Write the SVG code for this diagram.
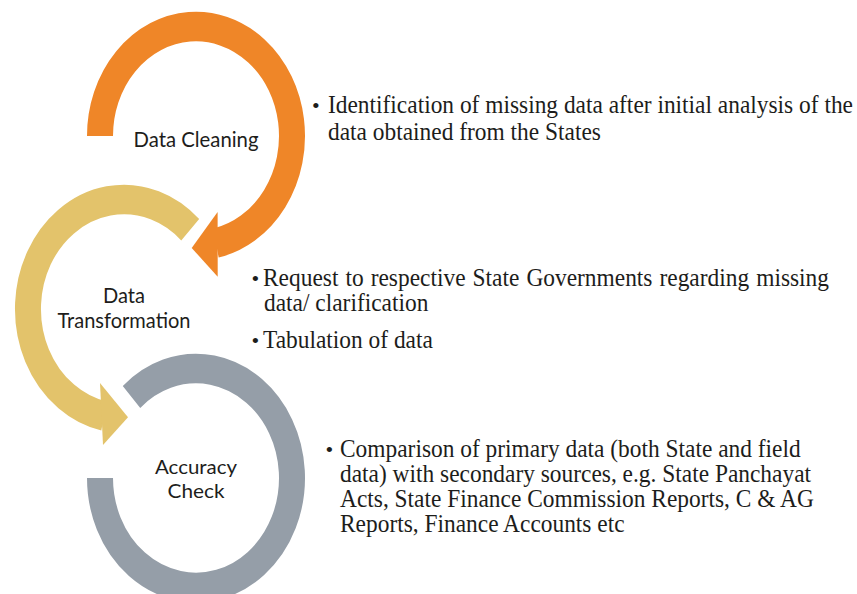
<svg xmlns="http://www.w3.org/2000/svg" width="857" height="594" viewBox="0 0 857 594">
<style>
.lbl{font-family:Lato,"Open Sans","DejaVu Sans",sans-serif;font-size:21px;fill:#1d1d1b;text-anchor:middle}
.lbl2{font-size:20px}
.txt{font-family:"Liberation Serif","Times New Roman",serif;font-size:23.4px;fill:#1d1d1b}
.bul{font-family:"Liberation Serif","Times New Roman",serif;font-size:22px;fill:#1d1d1b}
.ring{fill:none;stroke-width:26;stroke-linecap:butt}
.orange{stroke:#EF8628}
.gold{stroke:#E3C36B}
.grey{stroke:#959EA8}
</style>
<rect width="857" height="594" fill="#ffffff"/>

<g id="node-data-cleaning">
  <path class="ring orange" transform="translate(196 136) scale(1 1.14)" d="M -96 0 A 96 96 0 1 1 19.96 93.9"/>
  <text class="lbl" x="196" y="147" textLength="125" lengthAdjust="spacingAndGlyphs">Data Cleaning</text>
</g>

<g id="node-data-transformation">
  <path class="ring gold" transform="translate(124 309) scale(1 1.14)" d="M 66.2 -69.5 A 96 96 0 1 0 -19.96 93.9"/>
  <text class="lbl" x="124" y="303" textLength="42" lengthAdjust="spacingAndGlyphs">Data</text>
  <text class="lbl" x="124" y="328" textLength="133" lengthAdjust="spacingAndGlyphs">Transformation</text>
</g>

<g id="node-accuracy-check">
  <path class="ring grey" transform="translate(196 478) scale(1 1.14)" d="M -64.5 -71.1 A 96 96 0 1 1 -96 0"/>
  <text class="lbl lbl2" x="196" y="474" textLength="82" lengthAdjust="spacingAndGlyphs">Accuracy</text>
  <text class="lbl lbl2" x="196" y="498" textLength="57" lengthAdjust="spacingAndGlyphs">Check</text>
</g>

<g id="connectors">
  <polygon fill="#EF8628" transform="translate(196 136) scale(1 1.14)" points="21.6,66.6 21.7,123.4 -4.3,98.2"/>
  <polygon fill="#E3C36B" transform="translate(124 309) scale(1 1.14)" points="-24,64.9 -21,119.3 4,95"/>
</g>

<g id="text-cleaning">
  <text class="bul" x="312" y="112.5">•</text>
  <text class="txt" transform="translate(328 112.5) scale(1 1.06)">Identification of missing data after initial analysis of the</text>
  <text class="txt" transform="translate(328 140) scale(1 1.06)">data obtained from the States</text>
</g>

<g id="text-transformation">
  <text class="bul" x="251.5" y="286">•</text>
  <text class="txt" transform="translate(263 286) scale(1 1.06)" word-spacing="1.2">Request to respective State Governments regarding missing</text>
  <text class="txt" transform="translate(264 311) scale(1 1.06)">data/ clarification</text>
  <text class="bul" x="251.5" y="348">•</text>
  <text class="txt" transform="translate(263 348) scale(1 1.06)">Tabulation of data</text>
</g>

<g id="text-accuracy">
  <text class="bul" x="325.5" y="457">•</text>
  <text class="txt" transform="translate(340 457) scale(1 1.06)">Comparison of primary data (both State and field</text>
  <text class="txt" transform="translate(340 482) scale(1 1.06)">data) with secondary sources, e.g. State Panchayat</text>
  <text class="txt" transform="translate(340 507) scale(1 1.06)">Acts, State Finance Commission Reports, C &amp; AG</text>
  <text class="txt" transform="translate(340 532) scale(1 1.06)">Reports, Finance Accounts etc</text>
</g>
</svg>
